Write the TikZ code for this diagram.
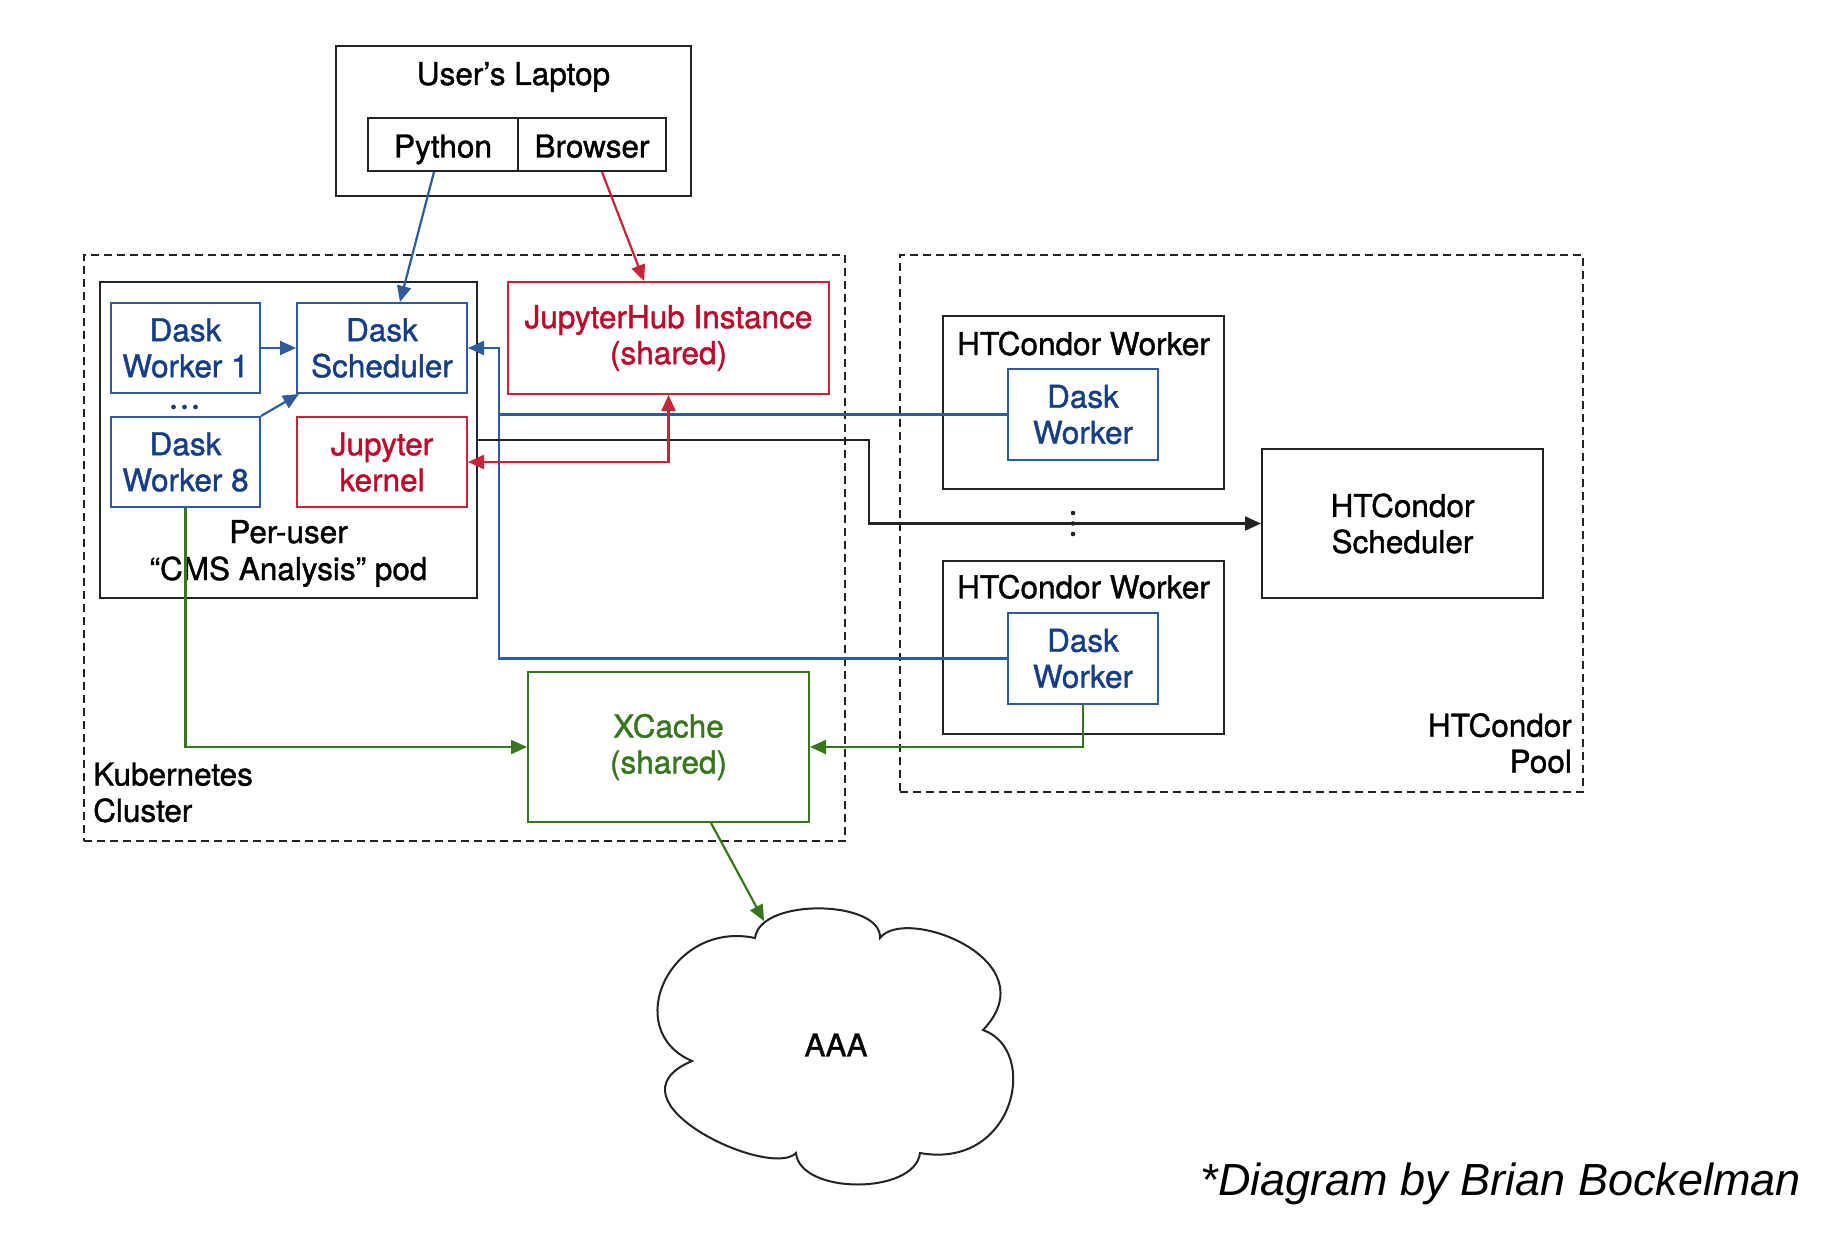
\documentclass[tikz,border=0pt]{standalone}
\usepackage{fontspec}
\setmainfont{TeX Gyre Heros}[FakeBold=1.2]
\newfontfamily\footfont{Liberation Sans}
\usetikzlibrary{arrows.meta,calc}
\definecolor{navy}{RGB}{22,62,135}
\definecolor{bblue}{RGB}{45,90,160}
\definecolor{dred}{RGB}{190,10,42}
\definecolor{bred}{RGB}{200,35,58}
\definecolor{dgreen}{RGB}{56,118,29}
\definecolor{dk}{RGB}{35,35,35}
\begin{document}
\begin{tikzpicture}[x=1pt,y=-1pt,
  every node/.style={font=\fontsize{31.5}{36}\selectfont},
  >={Triangle[length=16pt,width=14pt]},
  bx/.style={draw=dk, line width=2pt, inner sep=0pt, align=center, text=black},
  bluebox/.style={bx, draw=bblue, text=navy},
  redbox/.style={bx, draw=bred, text=dred},
  greenbox/.style={bx, draw=dgreen, text=dgreen},
  dashbox/.style={draw=dk, line width=2pt, dash pattern=on 8pt off 5pt, inner sep=0pt},
  bl/.style={draw=bblue, line width=2.2pt},
  rd/.style={draw=bred, line width=2.2pt},
  gr/.style={draw=dgreen, line width=2.2pt},
  bk/.style={draw=dk, line width=2.2pt},
  lbl/.style={inner sep=0pt},
  onerow/.style={text height=30pt, text depth=4pt}
]
\useasboundingbox[fill=white] (0,0) rectangle (1828,1238);

% containers
\node[dashbox, minimum width=761pt, minimum height=586pt] (kube) at (464.5,548) {};
\node[dashbox, minimum width=683pt, minimum height=537pt] (htc) at (1241.5,523.5) {};

% laptop
\node[bx, minimum width=355pt, minimum height=150pt] (laptop) at (513.5,121) {};
\node[lbl, anchor=base] (laptoplbl) at (513.5,85) {User’s Laptop};
\node[bx, onerow, minimum width=150pt, minimum height=53pt] (python) at (443,144.5) {Python};
\node[bx, onerow, minimum width=148pt, minimum height=53pt] (browser) at (592,144.5) {Browser};

% pod
\node[bx, minimum width=377pt, minimum height=316pt] (pod) at (288.5,440) {};
\node[bluebox, minimum width=149pt, minimum height=90pt] (dw1) at (185.5,348) {Dask\\Worker 1};
\node[bluebox, minimum width=170pt, minimum height=90pt] (dsch) at (382,348) {Dask\\Scheduler};
\node[bluebox, minimum width=149pt, minimum height=90pt] (dw8) at (185.5,462) {Dask\\Worker 8};
\node[redbox, minimum width=170pt, minimum height=90pt] (jk) at (382,462) {Jupyter\\kernel};
\fill[navy] (173.5,407) circle (2.4pt) (184.5,407) circle (2.4pt) (195.5,407) circle (2.4pt);
\node[lbl, anchor=base] (podlbl1) at (288.5,543) {Per-user};
\node[lbl, anchor=base] (podlbl2) at (288.5,580) {“CMS Analysis” pod};

% jupyterhub & xcache
\node[redbox, minimum width=321pt, minimum height=112pt] (jhub) at (668.5,338) {JupyterHub Instance\\(shared)};
\node[greenbox, minimum width=281pt, minimum height=150pt] (xcache) at (668.5,747) {XCache\\(shared)};

\node[lbl, anchor=base west] (kubelbl1) at (93,785.5) {Kubernetes};
\node[lbl, anchor=base west] (kubelbl2) at (93,821.8) {Cluster};

% htcondor
\node[bx, minimum width=281pt, minimum height=173pt] (hw1) at (1083.5,402.5) {};
\node[lbl, anchor=base] (hw1lbl) at (1083.5,355) {HTCondor Worker};
\node[bluebox, minimum width=150pt, minimum height=91pt] (dwa) at (1083,414.5) {Dask\\Worker};
\node[bx, minimum width=281pt, minimum height=173pt] (hw2) at (1083.5,647.5) {};
\node[lbl, anchor=base] (hw2lbl) at (1083.5,598.3) {HTCondor Worker};
\node[bluebox, minimum width=150pt, minimum height=91pt] (dwb) at (1083,658.5) {Dask\\Worker};
\node[bx, minimum width=281pt, minimum height=149pt] (hsch) at (1402.5,523.5) {HTCondor\\Scheduler};
\fill[dk] (1073,513) circle (2.3pt) (1073,523.5) circle (2.3pt) (1073,534) circle (2.3pt);
\node[lbl, anchor=base east] (htclbl1) at (1572,736.7) {HTCondor};
\node[lbl, anchor=base east] (htclbl2) at (1572,772.7) {Pool};

% cloud
\draw[line width=2pt, draw=dk] (755,938) .. controls (760,897) and (882,900) .. (880,938)
  .. controls (905,905) and (1050,960) .. (983,1030)
  .. controls (1040,1050) and (1015,1170) .. (920,1153)
  .. controls (915,1195) and (800,1195) .. (796,1153)
  .. controls (770,1180) and (600,1100) .. (692,1061)
  .. controls (620,1030) and (670,920) .. (755,938) -- cycle;
\coordinate (aaatop) at (764,921);
\node[lbl] (aaa) at (836,1045) {AAA};

% connectors
\draw[bl,->] ([xshift=-9pt]python.south) -- ([xshift=18pt]dsch.north);
\draw[rd,->] ([xshift=10pt]browser.south) -- ([xshift=-24.5pt]jhub.north);
\draw[bl,->] (dw1.east) -- (dsch.west);
\draw[bl,->] (dw8.north east) -- ([xshift=3pt]dsch.south west);
\coordinate (bj) at ([xshift=31pt]dsch.east);
\draw[bl,->] (dwb.west) -| (bj) -- (dsch.east);
\draw[bl] (dwa.west) -- (dwa.west -| bj);
\coordinate (kj) at ([xshift=-392pt]hsch.west);
\draw[bk,->] (pod.east) -| (kj) -- (hsch.west);
\draw[rd,<->] (jk.east) -| (jhub.south);
\draw[gr,->] (dw8.south) |- (xcache.west);
\draw[gr,->] (dwb.south) |- (xcache.east);
\draw[gr,->] ([xshift=42.5pt]xcache.south) -- (aaatop);

\node[lbl, anchor=base east, font=\footfont\itshape\fontsize{45}{50}\selectfont] (credit) at (1801,1195) {*Diagram by Brian Bockelman};
\end{tikzpicture}
\end{document}
